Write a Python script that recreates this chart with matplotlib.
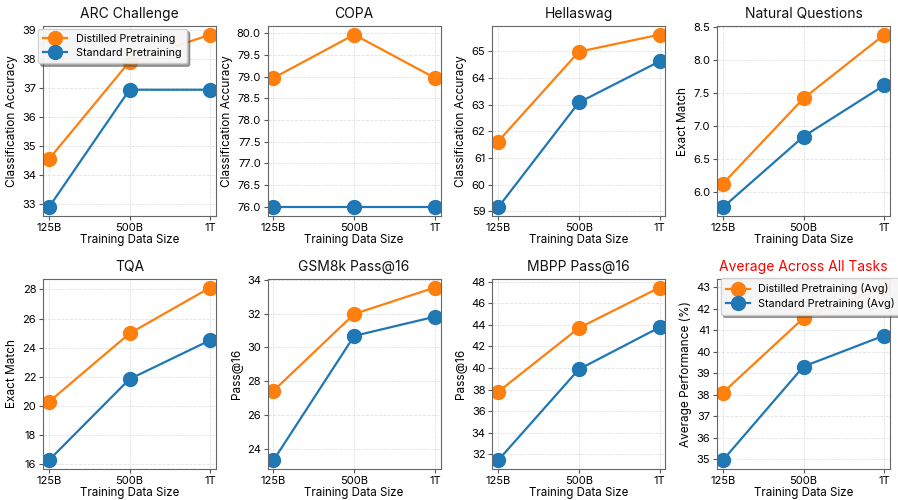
import matplotlib
matplotlib.use("Agg")
import matplotlib.pyplot as plt
from matplotlib.ticker import MultipleLocator

plt.rcParams['font.family'] = ['Inter', 'DejaVu Sans']

sizes = ["125B", "500B", "1T"]

titles = ["ARC Challenge", "COPA", "Hellaswag", "Natural Questions",
          "TQA", "GSM8k Pass@16", "MBPP Pass@16", "Average Across All Tasks"]
ylabels = ["Classification Accuracy", "Classification Accuracy", "Classification Accuracy",
           "Exact Match", "Exact Match", "Pass@16", "Pass@16", "Average Performance (%)"]

arc_distilled = [34.55, 37.92, 38.85]
arc_standard = [32.89, 36.95, 36.95]
copa_distilled = [78.97, 79.97, 78.97]
copa_standard = [75.98, 75.98, 75.98]
hella_distilled = [61.62, 64.98, 65.62]
hella_standard = [59.15, 63.08, 64.62]
nq_distilled = [6.12, 7.42, 8.39]
nq_standard = [5.76, 6.84, 7.62]
tqa_distilled = [20.28, 24.98, 28.13]
tqa_standard = [16.28, 21.85, 24.52]
gsm_distilled = [27.42, 31.98, 33.55]
gsm_standard = [23.3, 30.68, 31.82]
mbpp_distilled = [37.78, 43.72, 47.48]
mbpp_standard = [31.42, 39.88, 43.78]
avg_distilled = [38.10, 41.57, 42.99]
avg_standard = [34.96, 39.32, 40.76]

distilled = [arc_distilled, copa_distilled, hella_distilled, nq_distilled,
             tqa_distilled, gsm_distilled, mbpp_distilled, avg_distilled]
standard = [arc_standard, copa_standard, hella_standard, nq_standard,
            tqa_standard, gsm_standard, mbpp_standard, avg_standard]

ytick_steps = [1, 0.5, 1, 0.5, 2, 2, 2, 1]

orange = "#ff7f0e"
blue = "#1f77b4"

fig, axes = plt.subplots(2, 4, figsize=(8.98, 5.0), dpi=100)
fig.subplots_adjust(left=0.048, right=0.991, top=0.948, bottom=0.062,
                    wspace=0.30, hspace=0.33)
x = list(range(len(sizes)))
for i, ax in enumerate(axes.flat):
    avg = i == 7
    lab_d = "Distilled Pretraining (Avg)" if avg else "Distilled Pretraining"
    lab_s = "Standard Pretraining (Avg)" if avg else "Standard Pretraining"
    ax.plot(x, distilled[i], "-o", color=orange, lw=1.6, ms=10, label=lab_d)
    ax.plot(x, standard[i], "-o", color=blue, lw=1.6, ms=10, label=lab_s)
    ax.set_xticks(x)
    ax.set_xticklabels(sizes)
    ax.set_xlim(-0.07, 2.07)
    ax.yaxis.set_major_locator(MultipleLocator(ytick_steps[i]))
    ax.set_xlabel("Training Data Size", fontsize=8.3, labelpad=1)
    ax.set_ylabel(ylabels[i], fontsize=8.5, labelpad=3)
    ax.set_title(titles[i], fontsize=10, color="red" if avg else "#111111", pad=6)
    ax.grid(True, linestyle="--", color="#e2e2e2", linewidth=0.6)
    ax.tick_params(labelsize=8, length=3, color="#555555", pad=2)
    for s in ax.spines.values():
        s.set_color("#666666")
    if i == 0:
        ax.legend(loc="upper left", bbox_to_anchor=(-0.03, 0.985), borderaxespad=0,
                  fontsize=7.8, shadow=True, framealpha=0.9, borderpad=0.5,
                  handlelength=2.2, labelspacing=0.35)
    if avg:
        ax.legend(loc="upper left", bbox_to_anchor=(0.02, 1.005), borderaxespad=0,
                  fontsize=7.8, shadow=True, framealpha=0.9, borderpad=0.5,
                  handlelength=2.2, labelspacing=0.35)

fig.savefig("out.png", dpi=100)
